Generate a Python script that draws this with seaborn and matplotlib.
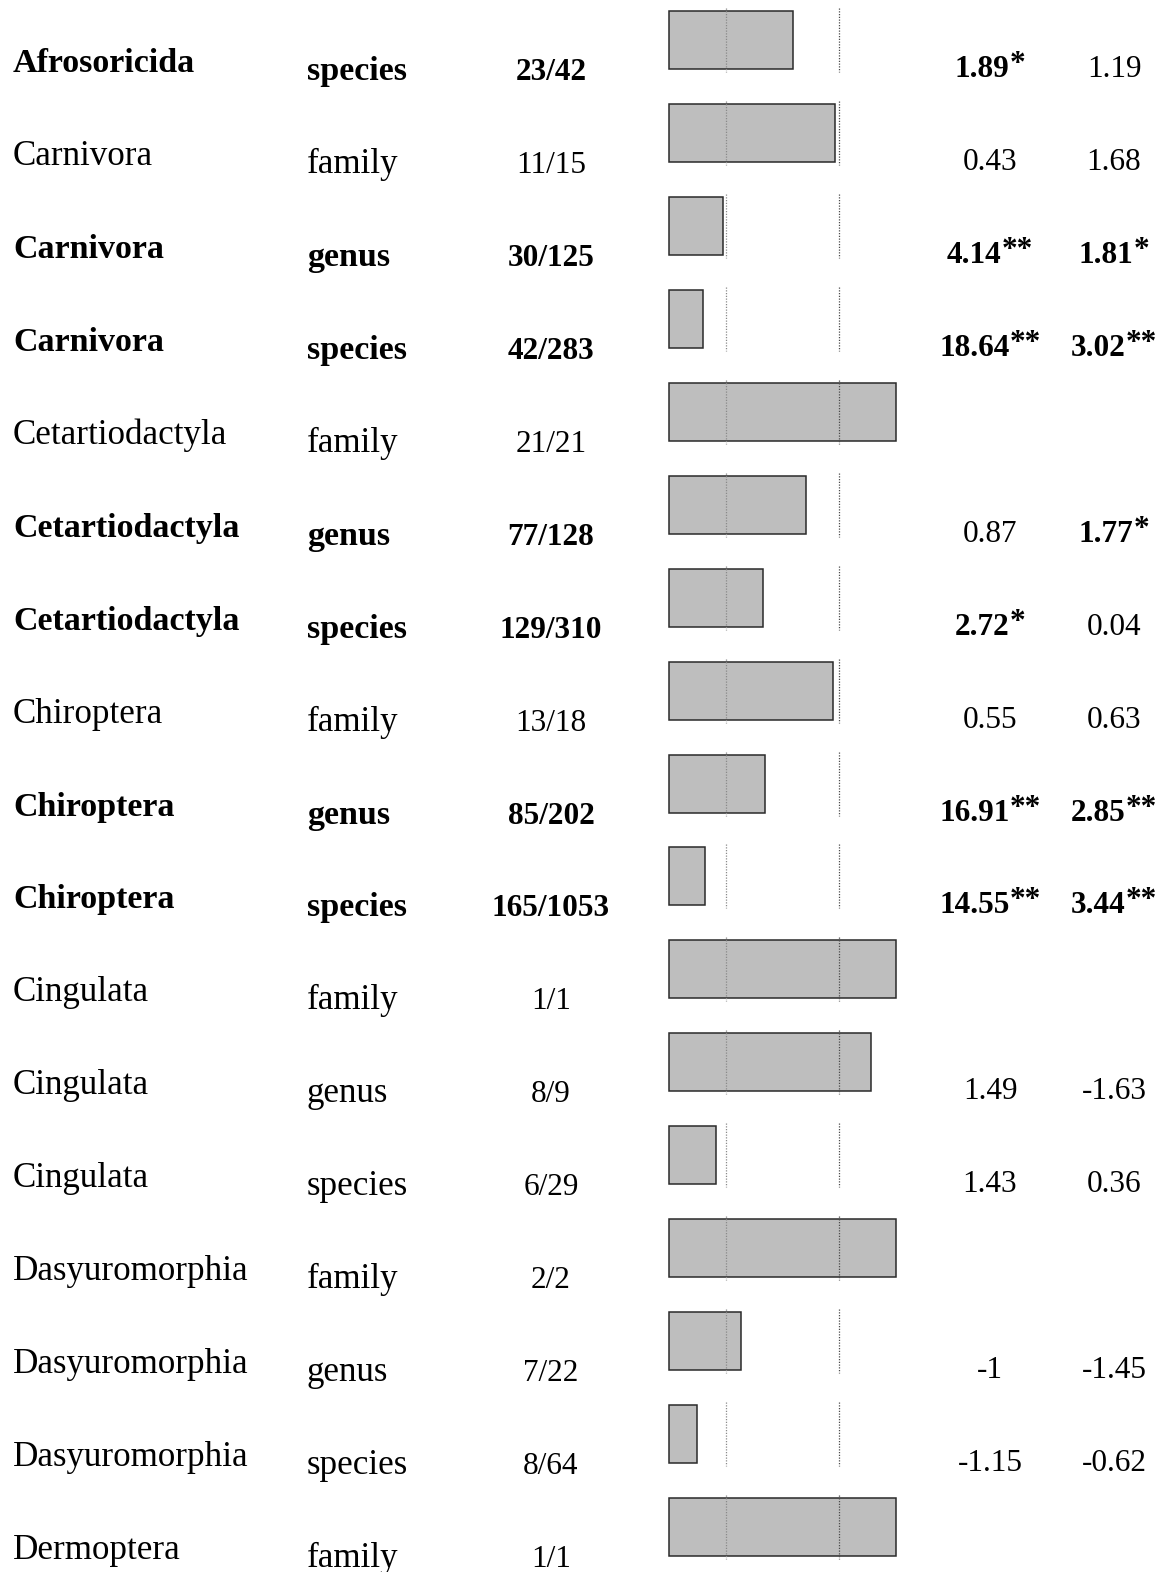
import matplotlib
matplotlib.use("Agg")
import matplotlib.pyplot as plt
import matplotlib.transforms as mtransforms
import numpy as np
import pandas as pd
import seaborn as sns

# ---- data -------------------------------------------------------------
orders = ["Afrosoricida", "Carnivora", "Carnivora", "Carnivora",
          "Cetartiodactyla", "Cetartiodactyla", "Cetartiodactyla",
          "Chiroptera", "Chiroptera", "Chiroptera",
          "Cingulata", "Cingulata", "Cingulata",
          "Dasyuromorphia", "Dasyuromorphia", "Dasyuromorphia",
          "Dermoptera"]
ranks = ["species", "family", "genus", "species",
         "family", "genus", "species",
         "family", "genus", "species",
         "family", "genus", "species",
         "family", "genus", "species",
         "family"]
hits = [23, 11, 30, 42, 21, 77, 129, 13, 85, 165, 1, 8, 6, 2, 7, 8, 1]
totals = [42, 15, 125, 283, 21, 128, 310, 18, 202, 1053, 1, 9, 29, 2, 22, 64, 1]
row_bold = [True, False, True, True, False, True, True, False, True, True,
            False, False, False, False, False, False, False]
stat1 = ["1.89", "0.43", "4.14", "18.64", "", "0.87", "2.72", "0.55", "16.91",
         "14.55", "", "1.49", "1.43", "", "-1", "-1.15", ""]
stars1 = [1, 0, 2, 2, 0, 0, 1, 0, 2, 2, 0, 0, 0, 0, 0, 0, 0]
stat2 = ["1.19", "1.68", "1.81", "3.02", "", "1.77", "0.04", "0.63", "2.85",
         "3.44", "", "-1.63", "0.36", "", "-1.45", "-0.62", ""]
stars2 = [0, 0, 1, 2, 0, 1, 0, 0, 2, 2, 0, 0, 0, 0, 0, 0, 0]

df = pd.DataFrame({
    "row": [f"{o} {r}" for o, r in zip(orders, ranks)],
    "fraction": np.array(hits) / np.array(totals),
})

# ---- style ------------------------------------------------------------
sns.set_style("white")
plt.rcParams["font.family"] = ["Liberation Serif", "DejaVu Serif"]

W, H, DPI = 1161, 1572, 100
fig = plt.figure(figsize=(W / DPI, H / DPI), dpi=DPI)
fig.patch.set_facecolor("white")

n = len(df)
step = 92.94          # row pitch in pixels
first = 40.0          # centre of the first row, pixels from top
top_px = first - step / 2
bot_px = first + step * (n - 0.5)
bar_left, bar_w = 669, 227
ax = fig.add_axes([bar_left / W, (H - bot_px) / H, bar_w / W, (bot_px - top_px) / H])

sns.barplot(data=df, x="fraction", y="row", orient="h", order=list(df["row"]),
            color="#bebebe", saturation=1, width=0.624,
            edgecolor="#2a2a2a", linewidth=1.1, ax=ax)
for p in ax.patches:
    p.set_clip_on(False)

# dotted quartile guides for each row
ys = np.arange(n)
half = 32 / step
ax.vlines([0.25] * n, ys - half, ys + half, colors="#8a8a8a",
          linestyles=(0, (1, 1.2)), linewidth=0.9, zorder=5, clip_on=False)
ax.vlines([0.75] * n, ys - half, ys + half, colors="#4a4a4a",
          linestyles=(0, (1, 1.2)), linewidth=0.9, zorder=5, clip_on=False)

ax.set_xlim(0, 1)
ax.set_ylim(n - 0.5, -0.5)
ax.set_axis_off()

# ---- text columns ------------------------------------------------------
blend = mtransforms.blended_transform_factory(fig.transFigure, ax.transData)


def put(x_px, i, s, dy, ha, bold, size):
    tr = mtransforms.offset_copy(blend, fig=fig, x=0, y=-dy, units="dots")
    return fig.text(x_px / W, i, s, transform=tr, ha=ha, va="baseline",
                    fontsize=size, fontweight="bold" if bold else "normal",
                    color="black")


STAR_W = 15.6  # approximate advance of one bold asterisk, pixels

for i in range(n):
    b = row_bold[i]
    size = 24.5 if b else 25.2
    put(13, i, orders[i], 32, "left", b, size)
    put(307, i, ranks[i], 40, "left", b, size)
    put(551, i, f"{hits[i]}/{totals[i]}", 40, "center", b, 22.5)
    for x_px, val, st in ((990, stat1[i], stars1[i]), (1114, stat2[i], stars2[i])):
        if not val:
            continue
        num = put(x_px - st * STAR_W / 2, i, val, 37, "center", st > 0, 22.5)
        if st:
            # significance marks raised as a superscript after the number
            fig.add_artist(matplotlib.text.Annotation(
                "*" * st, xy=(1, 0), xycoords=num,
                xytext=(0, 12), textcoords="offset pixels",
                ha="left", va="baseline", fontsize=22.5, fontweight="bold",
                color="black"))

fig.savefig("out.png", dpi=DPI, facecolor="white")
